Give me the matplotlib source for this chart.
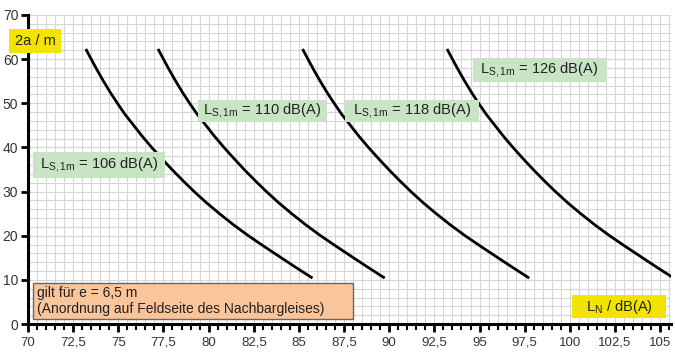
import numpy as np
import matplotlib.pyplot as plt
from matplotlib.patches import Rectangle
from matplotlib.ticker import MultipleLocator, FuncFormatter

plt.rcParams['font.family'] = ['Liberation Sans', 'DejaVu Sans']
plt.rcParams['mathtext.fontset'] = 'custom'
plt.rcParams['mathtext.rm'] = 'Liberation Sans'

# Werte
abstand = [62.3, 60, 57.5, 55, 52.5, 50, 47.5, 45, 42.5, 40, 37.5, 35,
           32.5, 30, 27.5, 25, 22.5, 20, 17.5, 15, 12.5, 10.4]   # 2a / m
ln_106 = [73.2, 73.5, 73.83, 74.18, 74.55, 74.95, 75.37, 75.85, 76.33, 76.85, 77.4,
          77.97, 78.57, 79.2, 79.87, 80.6, 81.37, 82.2, 83.1, 84.02, 84.95, 85.75]
ln_110 = [77.2, 77.5, 77.83, 78.18, 78.55, 78.95, 79.37, 79.85, 80.33, 80.85, 81.4,
          81.97, 82.57, 83.2, 83.87, 84.6, 85.37, 86.2, 87.1, 88.02, 88.95, 89.75]
ln_118 = [85.2, 85.5, 85.83, 86.18, 86.55, 86.95, 87.37, 87.85, 88.33, 88.85, 89.4,
          89.97, 90.57, 91.2, 91.87, 92.6, 93.37, 94.2, 95.1, 96.02, 96.95, 97.75]
ln_126 = [93.2, 93.5, 93.83, 94.18, 94.55, 94.95, 95.37, 95.85, 96.33, 96.85, 97.4,
          97.97, 98.57, 99.2, 99.87, 100.6, 101.37, 102.2, 103.1, 104.02, 104.95, 105.75]

kurven = [ln_106, ln_110, ln_118, ln_126]
pegel = ["106", "110", "118", "126"]
# Kästen (x0, x1, y0, y1) in Datenkoordinaten
kaesten = [(70.28, 77.59, 33.1, 39.0), (79.41, 86.5, 45.76, 50.75),
           (87.55, 94.97, 45.76, 50.75), (94.64, 102.0, 54.83, 60.26)]

fig = plt.figure(figsize=(6.75, 3.52), dpi=100)
ax = fig.add_axes([28/675, 1-324/352, (671-28)/675, (324-15)/352])

for x in kurven:
    ax.plot(x, abstand, color="black", lw=2.0, zorder=3,
            solid_capstyle="butt", solid_joinstyle="round")

gruen = "#c8e4c4"
for p, (x0, x1, y0, y1) in zip(pegel, kaesten):
    ax.add_patch(Rectangle((x0, y0), x1 - x0, y1 - y0, fc=gruen, ec="none", zorder=4))
    ax.text((x0 + x1) / 2, (y0 + y1) / 2, r"L$_{\mathrm{S,1m}}$ = " + p + " dB(A)",
            fontsize=10.5, color="#222222", ha="center", va="center", zorder=5)

# Hinweis unten links
ax.add_patch(Rectangle((70.28, 1.15), 17.71, 8.15, fc="#fbc59c", ec="#666666",
                       lw=1, zorder=4))
ax.text(70.5, 5.2, "gilt für e = 6,5 m\n(Anordnung auf Feldseite des Nachbargleises)",
        fontsize=10, color="#222222", ha="left", va="center", zorder=5,
        linespacing=1.1)

# Achsenbeschriftungen als gelbe Kästen
gelb = "#f2e400"
fig.text(35/675, 1-41/352, "2a / m", fontsize=10.5, color="#222222",
         ha="center", va="center",
         bbox=dict(boxstyle="square,pad=0.35", fc=gelb, ec="none"))
ax.add_patch(Rectangle((100.12, 1.36), 5.21, 5.21, fc=gelb, ec="none", zorder=4))
ax.text(102.72, 3.95, r"L$_{\mathrm{N}}$ / dB(A)", fontsize=10.5, color="#222222",
        ha="center", va="center", zorder=5)

ax.set_xlim(70, 105.6)
ax.set_ylim(0, 70)
ax.xaxis.set_major_locator(MultipleLocator(2.5))
ax.xaxis.set_minor_locator(MultipleLocator(0.5))
ax.yaxis.set_major_locator(MultipleLocator(10))
ax.yaxis.set_minor_locator(MultipleLocator(2))
ax.xaxis.set_major_formatter(FuncFormatter(lambda v, p: f"{v:g}".replace(".", ",")))

ax.grid(True, which="both", color="#d6d6d6", lw=0.8)
ax.set_axisbelow(True)
for s in ["top", "right"]:
    ax.spines[s].set_visible(False)
for s in ["left", "bottom"]:
    ax.spines[s].set_linewidth(2.2)
ax.tick_params(axis="x", which="major", length=6, width=2, labelsize=9.5,
               labelcolor="#333333", pad=3)
ax.tick_params(axis="x", which="minor", length=4, width=1.5)
ax.tick_params(axis="y", which="major", length=5, width=2, labelsize=10,
               labelcolor="#333333", pad=2)
ax.tick_params(axis="y", which="minor", length=0)

fig.savefig("out.png", dpi=100)
